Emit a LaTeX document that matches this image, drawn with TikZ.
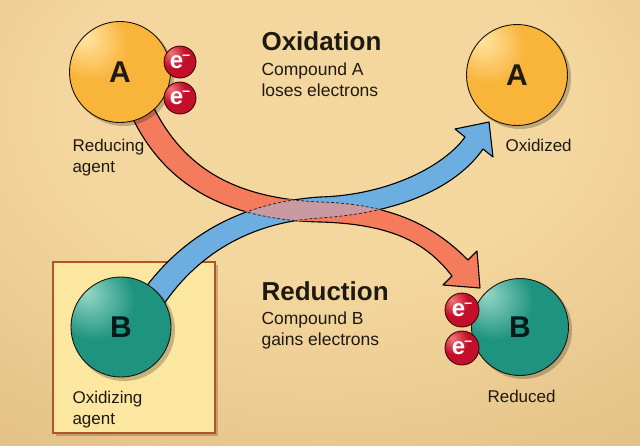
\documentclass[tikz,border=0pt]{standalone}
\usepackage{fontspec}
\setmainfont{Liberation Sans}
\definecolor{bgin}{HTML}{F4D79E}
\definecolor{bgout}{HTML}{C99F62}
\definecolor{redarrow}{HTML}{F47B5B}
\definecolor{bluearrow}{HTML}{6BAEDF}
\definecolor{overlapc}{HTML}{C99AA2}
\definecolor{boxfill}{HTML}{FCE7A0}
\definecolor{boxline}{HTML}{B4532A}
\definecolor{aHi}{HTML}{FFE6A8}
\definecolor{aMain}{HTML}{F9B43A}
\definecolor{aDark}{HTML}{EE9A1C}
\definecolor{bHi}{HTML}{9AD8C8}
\definecolor{bMain}{HTML}{1E9480}
\definecolor{bDark}{HTML}{0E6A5A}
\definecolor{eHi}{HTML}{F07A7A}
\definecolor{eMain}{HTML}{C40F2A}
\definecolor{eDark}{HTML}{860716}
\definecolor{textc}{HTML}{1E1A12}
\pgfdeclareradialshading{bgshade}{\pgfpoint{0bp}{18bp}}{color(0bp)=(bgin); color(20bp)=(bgin); color(75bp)=(bgout)}
\pgfdeclareradialshading{ballA}{\pgfpoint{-18bp}{18bp}}{color(0bp)=(aHi); color(18bp)=(aMain); color(55bp)=(aMain); color(75bp)=(aDark)}
\pgfdeclareradialshading{ballB}{\pgfpoint{-18bp}{18bp}}{color(0bp)=(bHi); color(20bp)=(bMain); color(55bp)=(bMain); color(75bp)=(bDark)}
\pgfdeclareradialshading{ballE}{\pgfpoint{-15bp}{15bp}}{color(0bp)=(eHi); color(20bp)=(eMain); color(55bp)=(eMain); color(75bp)=(eDark)}
\tikzset{
  ball/.style={circle, draw=black!85!brown, line width=0.9pt, inner sep=0pt, text=textc,
     font=\fontsize{30}{30}\selectfont\bfseries},
  ballAstyle/.style={ball, shading=ballA, minimum size=101pt},
  ballBstyle/.style={ball, shading=ballB, minimum size=100pt, text=black!80!teal},
  elec/.style={circle, shading=ballE, draw=black!80!red, line width=0.8pt, minimum size=32pt, inner sep=0pt,
     text=white, font=\fontsize{24}{24}\selectfont\bfseries},
  shadowc/.style={fill=black, opacity=0.22},
  outl/.style={draw=black, line width=1.1pt, line join=round},
  dashl/.style={draw=black!85, line width=0.8pt, dash pattern=on 3pt off 2pt},
  title/.style={anchor=base west, text=textc, font=\fontsize{26}{26}\selectfont\bfseries},
  sub/.style={anchor=base west, text=textc, font=\fontsize{17.5}{17.5}\selectfont},
  lab/.style={anchor=base west, text=textc, font=\fontsize{17}{17}\selectfont}
}
\newcommand{\elect}{\raisebox{-1pt}{e}\kern-1pt\raisebox{8pt}{\fontsize{14}{14}\selectfont\bfseries\char"2013}}
\def\redpath{(128,108) -- (150,100) .. controls (180,165) and (230,198) .. (320,202) .. controls (400,204) and (440,232) .. (468,260) -- (477,251) -- (480,288) -- (443,285) -- (452,276) .. controls (428,245) and (395,224) .. (320,222) .. controls (240,220) and (165,195) .. (128,108) -- cycle}
\def\bluepath{(140,295) .. controls (175,245) and (230,203) .. (320,197) .. controls (390,195) and (445,165) .. (465,137) -- (455,129) -- (489,122) -- (493,157) -- (483,149) .. controls (460,182) and (410,212) .. (320,218) .. controls (250,222) and (195,255) .. (160,310) -- cycle}
\begin{document}
\begin{tikzpicture}[x=1pt, y=-1pt]
\useasboundingbox (0,0) rectangle (640,445);
\shade[shading=bgshade] (0,0) rectangle (640,445);
% box
\fill[black, opacity=0.2] (56,265) rectangle (218,436);
\draw[fill=boxfill, draw=boxline, line width=1.6pt] (53,262) rectangle (215,433);
% arrows
\fill[redarrow] \redpath;
\draw[outl] \redpath;
\fill[bluearrow] \bluepath;
\draw[outl] \bluepath;
\begin{scope}
  \clip \redpath;
  \draw[redarrow, line width=2.6pt] \bluepath;
  \fill[overlapc] \bluepath;
  \draw[dashl] \bluepath;
\end{scope}
\begin{scope}
  \clip \bluepath;
  \draw[dashl] \redpath;
\end{scope}
% shadows of balls
\fill[shadowc] (123,75) circle (51);
\fill[shadowc] (520,78) circle (51);
\fill[shadowc] (124,330) circle (51);
\fill[shadowc] (523,330) circle (49);
% balls
\node[ballAstyle] (A1) at (120,72) {A};
\node[ballAstyle] (A2) at (517,75) {A};
\node[ballBstyle] (B1) at (121,327) {B};
\node[ballBstyle, minimum size=97pt] (B2) at (520,327) {B};
% electrons
\node[elec] (e1) at (180,62) {\elect};
\node[elec] (e2) at (180,98) {\elect};
\node[elec, minimum size=34pt] (e3) at (462,310) {\elect};
\node[elec, minimum size=34pt] (e4) at (462,348) {\elect};
% texts
\node[title] (t1) at (258,50) {Oxidation};
\node[sub] (t2) at (258,75) {Compound A};
\node[sub] (t3) at (258,96) {loses electrons};
\node[title] (t4) at (258,300) {Reduction};
\node[sub] (t5) at (258,324) {Compound B};
\node[sub] (t6) at (258,345) {gains electrons};
\node[lab] (l1) at (69,151) {Reducing};
\node[lab] (l2) at (69,172) {agent};
\node[lab] (l3) at (502,151) {Oxidized};
\node[lab] (l4) at (69,403) {Oxidizing};
\node[lab] (l5) at (69,424) {agent};
\node[lab] (l6) at (484,402) {Reduced};
\end{tikzpicture}
\end{document}
